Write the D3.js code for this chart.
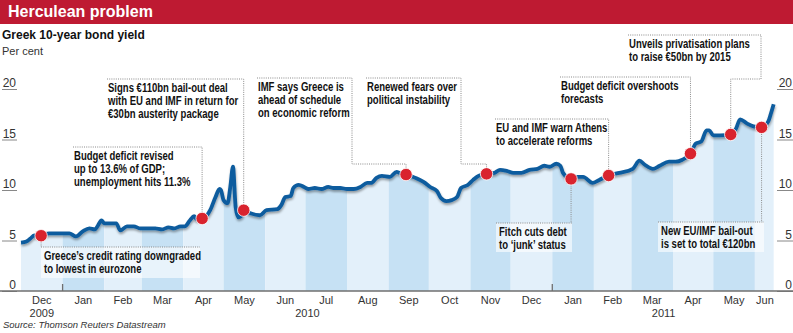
<!DOCTYPE html>
<html>
<head>
<meta charset="utf-8">
<script src="https://cdn.jsdelivr.net/npm/d3@7"></script>
<style>
  body { margin: 0; background: #fff; }
  svg text { font-family: "Liberation Sans Narrow", "Liberation Sans", sans-serif; }
</style>
</head>
<body>
<div id="chart"></div>
<script>
// Greek 10-year bond yield, per cent
const yieldDates = [
  "2009-12-01","2009-12-05","2009-12-08","2009-12-11","2009-12-13","2009-12-17","2009-12-22","2009-12-29",
  "2010-01-06","2010-01-11","2010-01-16","2010-01-21","2010-01-25","2010-01-27","2010-01-30",
  "2010-02-01","2010-02-05","2010-02-10","2010-02-13","2010-02-18","2010-02-23","2010-02-28",
  "2010-03-05","2010-03-11","2010-03-16","2010-03-21","2010-03-25","2010-03-30",
  "2010-04-02","2010-04-06","2010-04-09","2010-04-11","2010-04-16","2010-04-21","2010-04-25","2010-04-28","2010-04-29",
  "2010-05-01","2010-05-04","2010-05-06","2010-05-08","2010-05-10","2010-05-12","2010-05-14","2010-05-16","2010-05-21","2010-05-28",
  "2010-06-02","2010-06-10","2010-06-13","2010-06-16","2010-06-20","2010-06-22","2010-06-26","2010-06-30",
  "2010-07-03","2010-07-08","2010-07-13","2010-07-18","2010-07-22","2010-07-27",
  "2010-08-01","2010-08-06","2010-08-11","2010-08-16","2010-08-19","2010-08-23","2010-08-27",
  "2010-09-02","2010-09-07","2010-09-09","2010-09-15","2010-09-21","2010-09-27",
  "2010-10-02","2010-10-07","2010-10-10","2010-10-14","2010-10-18","2010-10-22","2010-10-25","2010-10-30",
  "2010-11-03","2010-11-07","2010-11-13","2010-11-19","2010-11-23","2010-11-28",
  "2010-12-03","2010-12-09","2010-12-15","2010-12-21","2010-12-26","2010-12-30",
  "2011-01-04","2011-01-07","2011-01-09","2011-01-15","2011-01-20","2011-01-24","2011-01-31",
  "2011-02-05","2011-02-13","2011-02-20",
  "2011-03-02","2011-03-07","2011-03-11","2011-03-17","2011-03-22","2011-03-29",
  "2011-04-03","2011-04-08","2011-04-14","2011-04-18","2011-04-22","2011-04-26","2011-04-28",
  "2011-05-01","2011-05-06","2011-05-14","2011-05-18","2011-05-21","2011-05-26","2011-05-31",
  "2011-06-06","2011-06-11","2011-06-13","2011-06-15"
];
const yieldValues = [
  4.8, 4.9, 5.2, 5.5, 5.4, 5.5, 5.7, 5.7,
  5.7, 5.4, 5.9, 6.2, 6.1, 6.4, 7.0,
  6.7, 6.7, 6.7, 6.0, 6.4, 6.4, 6.2,
  6.2, 6.2, 6.1, 6.3, 6.2, 6.4,
  6.4, 7.0, 7.4, 7.1, 7.2, 8.0, 9.3, 10.1, 10.0,
  9.0, 8.7, 10.3, 12.3, 8.3, 7.3, 7.4, 8.0, 7.7, 7.5,
  8.0, 8.1, 8.5, 9.3, 9.4, 10.2, 10.5, 10.3,
  10.1, 10.2, 10.1, 10.3, 10.2, 10.2,
  10.1, 10.1, 10.3, 10.7, 10.7, 11.2, 11.4,
  11.3, 11.8, 11.7, 11.5, 11.2, 10.8,
  10.3, 9.9, 9.2, 8.9, 9.0, 9.3, 10.2, 10.5,
  11.0, 11.4, 11.6, 11.7, 12.0, 11.9,
  11.7, 11.7, 12.0, 12.1, 12.4, 12.3,
  12.6, 12.4, 11.7, 11.1, 11.3, 11.3, 10.7,
  11.0, 11.5, 11.7,
  12.1, 12.9, 12.5, 12.1, 12.4, 12.8,
  12.8, 13.0, 13.6, 14.6, 14.8, 15.9, 15.9,
  15.4, 15.4, 15.5, 16.1, 17.0, 16.6, 16.3,
  16.2, 16.8, 17.6, 18.5
];

const eventDates = ["2009-12-16","2010-04-15","2010-05-16","2010-09-14","2010-11-13",
                    "2011-01-15","2011-02-12","2011-04-14","2011-05-14","2011-06-06"];
const eventLabels = [
  ["Greece\u2019s credit rating downgraded", "to lowest in eurozone"],
  ["Budget deficit revised", "up to 13.6% of GDP;", "unemployment hits 11.3%"],
  ["Signs \u20ac110bn bail-out deal", "with EU and IMF in return for", "\u20ac30bn austerity package"],
  ["IMF says Greece is", "ahead of schedule", "on economic reform"],
  ["Renewed fears over", "political instability"],
  ["Fitch cuts debt", "to \u2018junk\u2019 status"],
  ["EU and IMF warn Athens", "to accelerate reforms"],
  ["Budget deficit overshoots", "forecasts"],
  ["Unveils privatisation plans", "to raise \u20ac50bn by 2015"],
  ["New EU/IMF bail-out", "is set to total \u20ac120bn"]
];
const yTicks = [0, 5, 10, 15, 20];
const yearLabels = ["2009", "2010", "2011"];

// callout placement in pixels (layout only)
const callouts = [
  {below: true, left: 41, right: 200, top: 247, bottom: 278},
  {left: 73, top: 147},
  {left: 107, top: 79},
  {left: 257, top: 78, elbow: 352, drop: 164},
  {left: 366, top: 78, elbow: 461, drop: 164},
  {below: true, left: 496, right: 572, top: 223, bottom: 252},
  {left: 495, top: 119},
  {left: 560, top: 77},
  {left: 628, top: 35, elbow: 761, drop: 79},
  {below: true, left: 658, right: 764, top: 222, bottom: 252}
];

const width = 793,
      height = 333,
      squeeze = 0.77,   // condensed look for the bold callout text
      parse = d3.timeParse("%Y-%m-%d"),
      start = parse("2009-12-01"),
      end = parse("2011-06-16"),
      x = d3.scaleTime().domain([start, end]).range([21, 775]),
      y = d3.scaleLinear().domain([0, 20]).range([291, 89]);

const series = yieldDates.map((d, i) => ({date: parse(d), value: yieldValues[i]}));

function valueAt(date) {
  const i = d3.bisector(d => d.date).left(series, date);
  if (i <= 0) return series[0].value;
  if (i >= series.length) return series[series.length - 1].value;
  const a = series[i - 1], b = series[i],
        t = (date - a.date) / (b.date - a.date);
  return a.value + (b.value - a.value) * t;
}

const svg = d3.select("#chart")
  .append("svg")
  .attr("width", width)
  .attr("height", height);

// header
svg.append("rect")
  .attr("x", 0).attr("y", 0)
  .attr("width", width).attr("height", 24)
  .style("fill", "#be1a32");
svg.append("text")
  .attr("x", 8).attr("y", 17)
  .style("font-family", "'Liberation Sans', Arial, sans-serif")
  .style("font-weight", "bold")
  .style("font-size", "16px")
  .style("fill", "#fff")
  .text("Herculean problem");
svg.append("text")
  .attr("x", 2).attr("y", 39)
  .style("font-family", "'Liberation Sans', Arial, sans-serif")
  .style("font-weight", "bold")
  .style("font-size", "12px")
  .style("fill", "#111")
  .text("Greek 10-year bond yield");
svg.append("text")
  .attr("x", 2).attr("y", 55)
  .style("font-size", "11px")
  .style("fill", "#333")
  .text("Per cent");

const defs = svg.append("defs");
const area = d3.area()
  .curve(d3.curveMonotoneX)
  .x(d => x(d.date))
  .y0(y(0))
  .y1(d => y(d.value));
const line = d3.line()
  .curve(d3.curveMonotoneX)
  .x(d => x(d.date))
  .y(d => y(d.value));

defs.append("clipPath").attr("id", "under")
  .append("path").attr("d", area(series));
const shadow = defs.append("filter").attr("id", "shadow")
  .attr("x", "-5%").attr("y", "-20%").attr("width", "110%").attr("height", "140%");
shadow.append("feDropShadow")
  .attr("dx", 0.5).attr("dy", 2)
  .attr("stdDeviation", 1.3)
  .attr("flood-color", "#000")
  .attr("flood-opacity", 0.35);

// alternating month bands under the line
const months = d3.timeMonth.range(start, end);
svg.append("g")
  .attr("clip-path", "url(#under)")
  .selectAll("rect")
  .data(months)
  .enter()
  .append("rect")
  .attr("x", d => x(d))
  .attr("width", d => x(d3.min([d3.timeMonth.offset(d, 1), end])) - x(d))
  .attr("y", y(20) - 20)
  .attr("height", y(0) - y(20) + 20)
  .style("fill", (d, i) => i % 2 ? "#c6e1f4" : "#e3f0fa");

// axis ticks (label sits on a short rule)
const leftAxis = svg.append("g")
  .attr("transform", "translate(2,0)")
  .call(d3.axisRight(y).tickValues(yTicks).tickSize(15));
const rightAxis = svg.append("g")
  .attr("transform", `translate(${width},0)`)
  .call(d3.axisLeft(y).tickValues(yTicks).tickSize(16));
[leftAxis, rightAxis].forEach(g => {
  g.select(".domain").remove();
  g.selectAll("line").style("stroke", "#888");
  g.selectAll("text")
    .attr("dy", -2.5)
    .style("text-anchor", "end")
    .style("font-family", "'Liberation Sans Narrow', sans-serif")
    .style("font-size", "12px")
    .style("fill", "#333");
});
leftAxis.selectAll("text").attr("x", 14);
rightAxis.selectAll("text").attr("x", -1);

// baseline and year separators
svg.append("line")
  .attr("x1", 0).attr("x2", width)
  .attr("y1", y(0)).attr("y2", y(0))
  .style("stroke", "#6f6f6f").style("stroke-width", 1.3);
svg.selectAll(".yeartick")
  .data(d3.timeYear.range(start, end))
  .enter()
  .append("line")
  .attr("x1", d => x(d)).attr("x2", d => x(d))
  .attr("y1", y(0) - 7).attr("y2", y(0))
  .style("stroke", "#6f6f6f").style("stroke-width", 1.3);

// month labels
svg.selectAll(".month")
  .data(months)
  .enter()
  .append("text")
  .attr("x", d => (x(d) + x(d3.min([d3.timeMonth.offset(d, 1), end]))) / 2)
  .attr("y", 304)
  .style("text-anchor", "middle")
  .style("font-size", "11px")
  .style("fill", "#333")
  .text(d3.timeFormat("%b"));

// year labels, centred on the visible part of each year
svg.selectAll(".year")
  .data(yearLabels)
  .enter()
  .append("text")
  .attr("x", d => {
    const y0 = d3.max([parse(d + "-01-01"), start]),
          y1 = d3.min([parse((+d + 1) + "-01-01"), end]);
    return (x(y0) + x(y1)) / 2;
  })
  .attr("y", 317)
  .style("text-anchor", "middle")
  .style("font-size", "11px")
  .style("fill", "#333")
  .text(d => d);

svg.append("text")
  .attr("x", 3).attr("y", 328)
  .style("font-size", "9.5px")
  .style("font-style", "italic")
  .style("fill", "#333")
  .text("Source: Thomson Reuters Datastream");

// callout backgrounds for the boxes below the line
callouts.forEach((c) => {
  if (c.below) {
    svg.append("rect")
      .attr("x", c.left).attr("y", c.top)
      .attr("width", c.right - c.left).attr("height", c.bottom - c.top)
      .style("fill", "rgba(255,255,255,0.6)");
  }
});

// line with shadow
svg.append("path")
  .datum(series)
  .attr("d", line)
  .style("fill", "none")
  .style("stroke", "#0f5c9e")
  .style("stroke-width", 3.8)
  .style("stroke-linejoin", "round")
  .attr("filter", "url(#shadow)");

// leaders, texts and dots
const events = eventDates.map((d, i) => ({date: parse(d), labels: eventLabels[i], c: callouts[i]}));
events.forEach((e) => {
  const cx = x(e.date), cy = y(valueAt(e.date)), c = e.c;
  let p = d3.path();
  if (c.below) {
    p.moveTo(cx, cy);
    p.lineTo(cx, c.top);
    p.moveTo(c.left, c.top);
    p.lineTo(c.right, c.top);
  } else {
    p.moveTo(c.left, c.top);
    if (c.elbow) {
      p.lineTo(c.elbow, c.top);
      p.lineTo(c.elbow, c.drop);
      p.lineTo(cx, c.drop);
    } else {
      p.lineTo(cx, c.top);
    }
    p.lineTo(cx, cy);
  }
  svg.append("path")
    .attr("d", p.toString())
    .style("fill", "none")
    .style("stroke", "#8a8a8a")
    .style("stroke-width", 1)
    .style("stroke-dasharray", "1,1.2");

  const tx = c.below ? c.left + 3 : c.left + 1;
  const t = svg.append("text")
    .attr("transform", `translate(${tx},0) scale(${squeeze},1)`)
    .style("font-family", "'Liberation Sans', Arial, sans-serif")
    .style("font-weight", "bold")
    .style("font-size", "12.4px")
    .style("fill", "#111");
  e.labels.forEach((l, j) => {
    t.append("tspan")
      .attr("x", 0)
      .attr("y", c.top + 13 + j * (c.below ? 12.6 : 13))
      .text(l);
  });
});

svg.selectAll(".dot")
  .data(events)
  .enter()
  .append("circle")
  .attr("cx", d => x(d.date))
  .attr("cy", d => y(valueAt(d.date)))
  .attr("r", 6.2)
  .style("fill", "#d9232e")
  .style("stroke", "#fff")
  .style("stroke-width", 0.8);
</script>
</body>
</html>
